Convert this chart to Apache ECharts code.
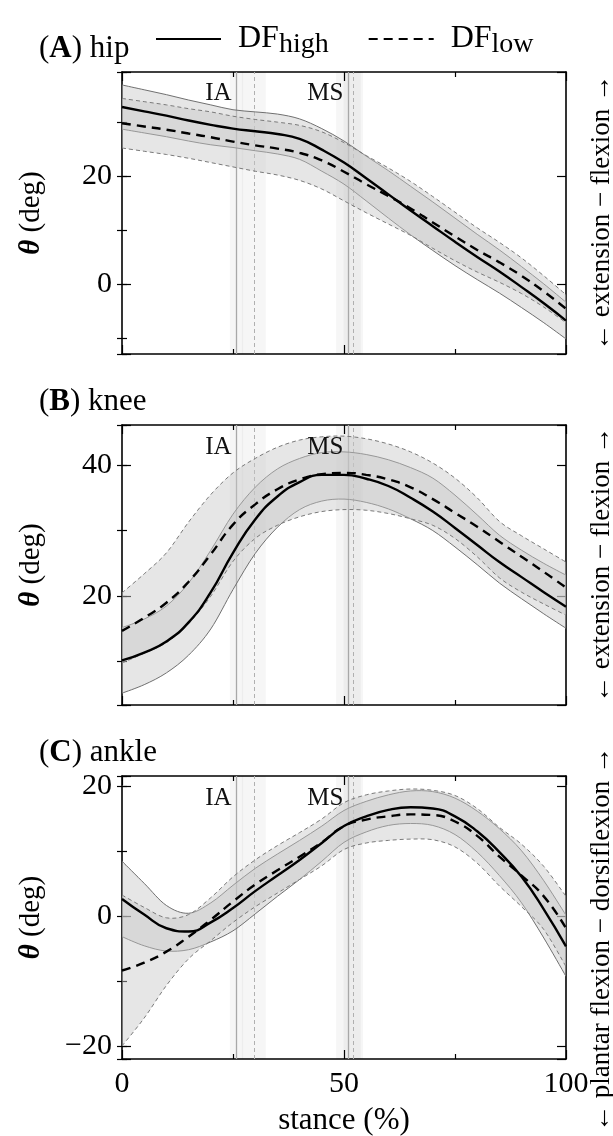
<!DOCTYPE html>
<html>
<head>
<meta charset="utf-8">
<script src="https://cdn.jsdelivr.net/npm/echarts@6.0.0/dist/echarts.min.js"></script>
<style>
html, body { margin: 0; padding: 0; background: #fff; }
#main { width: 613px; height: 1136px; }
</style>
</head>
<body>
<div id="main"></div>
<script>
// stance (%) sample points
var stance = [0, 5, 10, 15, 20, 25, 30, 35, 40, 45, 50, 55, 60, 65, 70, 75, 80, 85, 90, 95, 100];

// (A) hip, mean and band edges (deg)
var hipHigh   = [32.8, 32.0, 31.2, 30.3, 29.5, 28.8, 28.3, 27.8, 26.9, 24.9, 22.5, 19.6, 16.6, 13.6, 10.7, 7.8, 5.0, 2.3, -0.6, -3.6, -6.8];
var hipHighUp = [36.9, 36.0, 35.1, 34.1, 33.2, 32.3, 31.9, 31.5, 30.6, 28.8, 26.5, 23.7, 21.0, 18.1, 15.2, 12.2, 9.2, 6.3, 3.2, 0.0, -3.4];
var hipHighLo = [28.7, 28.0, 27.3, 26.5, 25.8, 25.3, 24.7, 24.1, 23.1, 20.9, 18.5, 15.4, 12.2, 9.1, 6.2, 3.4, 0.8, -1.7, -4.4, -7.2, -10.2];
var hipLow    = [29.8, 29.2, 28.6, 27.9, 27.2, 26.4, 25.7, 25.1, 24.3, 22.9, 20.8, 18.5, 16.3, 14.0, 11.4, 8.8, 6.3, 4.0, 1.5, -1.4, -4.6];
var hipLowUp  = [34.4, 33.8, 33.2, 32.5, 31.9, 31.1, 30.5, 30.0, 29.4, 28.2, 26.2, 23.8, 21.5, 19.0, 16.2, 13.3, 10.4, 7.7, 4.8, 1.5, -2.0];
var hipLowLo  = [25.2, 24.6, 24.0, 23.3, 22.5, 21.7, 20.9, 20.2, 19.2, 17.6, 15.4, 13.2, 11.1, 9.0, 6.6, 4.3, 2.2, 0.3, -1.8, -4.3, -7.2];

// (B) knee
var kneeHigh   = [10.2, 11.4, 13.1, 16.0, 20.6, 26.6, 31.7, 35.2, 37.4, 38.5, 38.5, 37.9, 36.8, 35.0, 32.9, 30.4, 27.8, 25.2, 22.9, 20.6, 18.4];
var kneeHighUp = [15.2, 16.5, 18.5, 22.0, 27.0, 32.5, 36.6, 39.4, 41.0, 41.9, 42.0, 41.6, 40.8, 39.6, 38.0, 35.4, 32.4, 29.3, 27.0, 25.0, 23.2];
var kneeHighLo = [5.2, 6.5, 8.3, 11.0, 15.0, 21.0, 26.5, 30.5, 33.2, 34.5, 34.8, 34.3, 33.3, 31.8, 30.0, 27.5, 24.8, 22.0, 19.6, 17.3, 15.1];
var kneeLow    = [14.7, 16.7, 19.0, 22.2, 26.4, 30.9, 34.0, 36.3, 37.8, 38.6, 38.8, 38.5, 37.8, 36.6, 34.8, 32.7, 30.6, 28.3, 26.0, 23.7, 21.3];
var kneeLowUp  = [20.5, 23.4, 26.6, 31.3, 35.5, 38.8, 41.0, 42.7, 43.8, 44.3, 44.4, 44.0, 43.2, 42.0, 40.3, 38.0, 35.0, 31.4, 29.2, 27.2, 25.2];
var kneeLowLo  = [9.8, 11.3, 12.9, 15.8, 20.0, 25.3, 28.8, 30.8, 32.1, 32.9, 33.2, 33.1, 32.6, 31.8, 30.8, 28.8, 26.0, 22.8, 20.6, 18.8, 17.1];

// (C) ankle
var ankleHigh   = [2.6, 0.2, -1.9, -2.4, -1.0, 1.2, 3.8, 6.2, 8.6, 11.2, 13.8, 15.3, 16.3, 16.7, 16.5, 15.3, 13.0, 9.8, 6.0, 1.0, -4.7];
var ankleHighUp = [8.4, 5.0, 1.6, 0.4, 2.0, 4.7, 7.3, 9.5, 11.6, 13.8, 16.2, 17.6, 18.6, 19.2, 19.1, 18.1, 16.1, 13.4, 10.0, 5.4, 0.1];
var ankleHighLo = [-3.2, -4.6, -5.4, -5.2, -4.0, -2.3, 0.3, 3.0, 5.6, 8.4, 11.3, 12.9, 13.9, 14.2, 13.9, 12.5, 9.8, 6.2, 2.0, -3.4, -9.3];
var ankleLow    = [-8.4, -7.2, -5.5, -3.2, -0.6, 2.2, 4.8, 7.0, 9.1, 11.3, 13.8, 14.8, 15.3, 15.6, 15.5, 14.5, 12.3, 9.1, 6.2, 3.0, -1.9];
var ankleLowUp  = [3.2, 1.3, -0.3, 0.2, 2.8, 6.0, 8.6, 10.8, 12.8, 14.9, 17.4, 18.6, 19.2, 19.5, 19.3, 18.5, 16.5, 13.6, 11.0, 7.6, 3.0];
var ankleLowLo  = [-20.0, -15.7, -10.7, -6.6, -3.8, -1.0, 1.4, 3.5, 5.6, 7.7, 10.2, 11.2, 11.6, 11.8, 11.7, 10.6, 8.1, 4.6, 1.4, -2.1, -7.8];

// gait events (% stance): IA and MS, mean and spread for each group
var eventNames = ['IA', 'MS'];
var eventHigh = [25.8, 51.0];
var eventHighSd = [1.5, 2.8];
var eventLow = [29.7, 52.1];
var eventLowSd = [2.7, 2.2];

var font = 'Liberation Serif';
var bandFill = 'rgba(200,200,200,0.45)';

var panels = [
    { tag: 'A', joint: 'hip', top: 72, height: 282, min: -13, max: 39.3, major: 3, minor: 5, labelAt: 35.4,
      side: '\u2190 extension \u2212 flexion \u2192', shift: 0,
      high: hipHigh, highUp: hipHighUp, highLo: hipHighLo, low: hipLow, lowUp: hipLowUp, lowLo: hipLowLo },
    { tag: 'B', joint: 'knee', top: 425, height: 280, min: 3.4, max: 46.1, major: 2, minor: 4, labelAt: 42.7,
      side: '\u2190 extension \u2212 flexion \u2192', shift: 0,
      high: kneeHigh, highUp: kneeHighUp, highLo: kneeHighLo, low: kneeLow, lowUp: kneeLowUp, lowLo: kneeLowLo },
    { tag: 'C', joint: 'ankle', top: 776, height: 283, min: -22, max: 21.5, major: 2, minor: 4, labelAt: 18.1,
      side: '\u2190 plantar flexion \u2212 dorsiflexion \u2192', shift: 44,
      high: ankleHigh, highUp: ankleHighUp, highLo: ankleHighLo, low: ankleLow, lowUp: ankleLowUp, lowLo: ankleLowLo }
];

function pairs(ys) {
    return stance.map(function (x, i) { return [x, ys[i]]; });
}
function degLabel(v) {
    if (Math.abs(v % 20) > 1e-6) return '';
    return v < 0 ? '\u2212' + Math.abs(v) : String(v);
}

// catmull-rom through pixel points, as svg path commands
function curve(pts, move) {
    var d = (move ? 'M' : 'L') + pts[0][0] + ',' + pts[0][1];
    for (var i = 0; i < pts.length - 1; i++) {
        var p0 = pts[i - 1] || pts[i], p1 = pts[i], p2 = pts[i + 1], p3 = pts[i + 2] || p2;
        d += 'C' + (p1[0] + (p2[0] - p0[0]) / 6) + ',' + (p1[1] + (p2[1] - p0[1]) / 6) + ','
            + (p2[0] - (p3[0] - p1[0]) / 6) + ',' + (p2[1] - (p3[1] - p1[1]) / 6) + ','
            + p2[0] + ',' + p2[1];
    }
    return d;
}

// one shaded band with its two edge lines
function bandSeries(xi, yi, up, lo, edge) {
    return {
        type: 'custom', xAxisIndex: xi, yAxisIndex: yi, silent: true, clip: true, z: 2,
        data: [[0, 0]],
        renderItem: function (params, api) {
            var top = stance.map(function (x, k) { return api.coord([x, up[k]]); });
            var bot = stance.map(function (x, k) { return api.coord([x, lo[k]]); });
            var edgeStyle = { fill: null, stroke: edge.color, lineWidth: 1, lineDash: edge.dash };
            return {
                type: 'group',
                children: [
                    { type: 'path', shape: { pathData: curve(top, true) + curve(bot.slice().reverse(), false) + 'Z' },
                      style: { fill: bandFill, stroke: null } },
                    { type: 'path', shape: { pathData: curve(top, true) }, style: edgeStyle },
                    { type: 'path', shape: { pathData: curve(bot, true) }, style: edgeStyle }
                ]
            };
        }
    };
}

var frame = { show: true, onZero: false, lineStyle: { color: '#000', width: 1.6 } };
var tickStyle = { color: '#000', width: 1.2 };

var grid = [], xAxis = [], yAxis = [], series = [], title = [];

panels.forEach(function (p, i) {
    var last = i === panels.length - 1;
    grid.push({ left: 122, width: 444, top: p.top, height: p.height, outerBoundsMode: 'none', containLabel: false });
    title.push({
        text: '({b|' + p.tag + '}) ' + p.joint,
        left: 34, top: p.top - 44,
        textStyle: {
            fontFamily: font, fontSize: 31, fontWeight: 'normal', color: '#000',
            rich: { b: { fontFamily: font, fontSize: 31, fontWeight: 'bold', color: '#000' } }
        }
    });

    // bottom / top stance axes
    xAxis.push({
        gridIndex: i, type: 'value', min: 0, max: 100, interval: 50, position: 'bottom',
        axisLine: frame,
        axisTick: { inside: true, length: 9, lineStyle: tickStyle },
        minorTick: { show: true, splitNumber: 2, length: 5, lineStyle: tickStyle },
        splitLine: { show: false },
        axisLabel: { show: last, fontFamily: font, fontSize: 30, color: '#000', margin: 10 },
        name: last ? 'stance (%)' : '',
        nameLocation: 'middle', nameGap: 46,
        nameTextStyle: { fontFamily: font, fontSize: 31, color: '#000' }
    });
    xAxis.push({
        gridIndex: i, type: 'value', min: 0, max: 100, interval: 50, position: 'top',
        axisLine: frame,
        axisTick: { inside: true, length: 9, lineStyle: tickStyle },
        minorTick: { show: true, splitNumber: 2, length: 5, lineStyle: tickStyle },
        splitLine: { show: false },
        axisLabel: { show: false }
    });

    // left major, left minor, right major, right minor
    yAxis.push({
        gridIndex: i, type: 'value', min: p.min, max: p.max, splitNumber: p.major, position: 'left',
        axisLine: frame,
        axisTick: { inside: true, length: 9, lineStyle: tickStyle },
        splitLine: { show: false },
        axisLabel: { formatter: degLabel, fontFamily: font, fontSize: 30, color: '#000', margin: 10 },
        name: '{t|\u03b8} (deg)', nameLocation: 'middle', nameGap: 76, nameRotate: 90,
        nameTextStyle: {
            fontFamily: font, fontSize: 29, color: '#000',
            rich: { t: { fontFamily: font, fontSize: 29, fontWeight: 'bold', fontStyle: 'italic', color: '#000' } }
        }
    });
    yAxis.push({
        gridIndex: i, type: 'value', min: p.min, max: p.max, splitNumber: p.minor, position: 'left',
        axisLine: { show: false },
        axisTick: { inside: true, length: 5, lineStyle: tickStyle },
        splitLine: { show: false },
        axisLabel: { show: false }
    });
    yAxis.push({
        gridIndex: i, type: 'value', min: p.min, max: p.max, splitNumber: p.major, position: 'right',
        axisLine: frame,
        axisTick: { inside: true, length: 9, lineStyle: tickStyle },
        splitLine: { show: false },
        axisLabel: { show: false },
        name: p.side, nameLocation: 'middle', nameGap: 22, nameRotate: 90,
        nameTextStyle: { fontFamily: font, fontSize: 27, color: '#000', padding: [0, p.shift, 0, 0] }
    });
    yAxis.push({
        gridIndex: i, type: 'value', min: p.min, max: p.max, splitNumber: p.minor, position: 'right',
        axisLine: { show: false },
        axisTick: { inside: true, length: 5, lineStyle: tickStyle },
        splitLine: { show: false },
        axisLabel: { show: false }
    });

    var xi = 2 * i, yi = 4 * i;

    series.push(bandSeries(xi, yi, p.highUp, p.highLo, { color: '#707070', dash: null }));
    series.push(bandSeries(xi, yi, p.lowUp, p.lowLo, { color: '#7a7a7a', dash: [4, 3] }));

    // means, with the gait events hung on the first one
    series.push({
        type: 'line', name: 'DF_high', xAxisIndex: xi, yAxisIndex: yi, data: pairs(p.high), z: 3,
        symbol: 'none', smooth: 0.5, silent: true,
        lineStyle: { color: '#000', width: 2.4 }, itemStyle: { color: '#000' },
        markArea: {
            silent: true, z: 1, itemStyle: { color: 'rgba(0,0,0,0.035)' },
            data: eventNames.map(function (n, k) {
                return [{ xAxis: eventHigh[k] - eventHighSd[k] }, { xAxis: eventHigh[k] + eventHighSd[k] }];
            }).concat(eventNames.map(function (n, k) {
                return [{ xAxis: eventLow[k] - eventLowSd[k] }, { xAxis: eventLow[k] + eventLowSd[k] }];
            }))
        },
        markLine: {
            silent: true, z: 1, symbol: 'none', label: { show: false },
            data: eventHigh.map(function (v) {
                return { xAxis: v, lineStyle: { color: '#a8a8a8', width: 1.3, type: 'solid' } };
            }).concat(eventLow.map(function (v) {
                return { xAxis: v, lineStyle: { color: '#b0b0b0', width: 1, type: [4, 3] } };
            }))
        },
        markPoint: {
            silent: true, symbol: 'circle', symbolSize: 0,
            label: { show: true, position: 'left', distance: 5, fontFamily: font, fontSize: 25, color: '#111',
                formatter: function (d) { return d.name; } },
            data: eventNames.map(function (n, k) { return { name: n, coord: [eventHigh[k], p.labelAt] }; })
        }
    });
    series.push({
        type: 'line', name: 'DF_low', xAxisIndex: xi, yAxisIndex: yi, data: pairs(p.low), z: 3,
        symbol: 'none', smooth: 0.5, silent: true,
        lineStyle: { color: '#000', width: 2.4, type: [9, 6] }, itemStyle: { color: '#000' }
    });
});

var chart = echarts.init(document.getElementById('main'), null, { renderer: 'canvas' });
chart.setOption({
    animation: false,
    backgroundColor: '#fff',
    title: title,
    legend: {
        data: ['DF_high', 'DF_low'],
        left: 150, top: 14,
        itemWidth: 65, itemHeight: 14, itemGap: 39,
        selectedMode: false,
        itemStyle: { color: 'rgba(0,0,0,0)', borderColor: 'rgba(0,0,0,0)', borderWidth: 0 },
        formatter: function (n) {
            return n === 'DF_high' ? '{m|DF}{s|high}' : '{m|DF}{s|low}';
        },
        textStyle: {
            fontFamily: font, color: '#000', padding: [0, 0, 0, 12],
            rich: {
                m: { fontFamily: font, fontSize: 32, color: '#000', lineHeight: 40, verticalAlign: 'middle' },
                s: { fontFamily: font, fontSize: 28, color: '#000', lineHeight: 40, verticalAlign: 'bottom', padding: [12, 0, 0, 0] }
            }
        }
    },
    grid: grid,
    xAxis: xAxis,
    yAxis: yAxis,
    series: series
});
</script>
</body>
</html>
